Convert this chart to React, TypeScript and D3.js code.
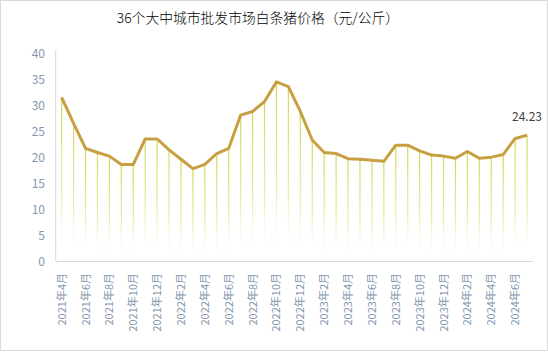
import React from "react";
import * as d3 from "d3";

const months: string[] = [
  "2021年4月","2021年5月","2021年6月","2021年7月","2021年8月","2021年9月","2021年10月","2021年11月","2021年12月",
  "2022年1月","2022年2月","2022年3月","2022年4月","2022年5月","2022年6月","2022年7月","2022年8月","2022年9月","2022年10月","2022年11月","2022年12月",
  "2023年1月","2023年2月","2023年3月","2023年4月","2023年5月","2023年6月","2023年7月","2023年8月","2023年9月","2023年10月","2023年11月","2023年12月",
  "2024年1月","2024年2月","2024年3月","2024年4月","2024年5月","2024年6月","2024年7月",
];
const prices: number[] = [
  31.5, 26.5, 21.7, 20.9, 20.2, 18.6, 18.6, 23.5, 23.5,
  21.4, 19.6, 17.8, 18.6, 20.7, 21.7, 28.1, 28.8, 30.7, 34.5, 33.6, 28.8,
  23.3, 20.9, 20.7, 19.7, 19.6, 19.4, 19.2, 22.3, 22.3, 21.2, 20.4, 20.2,
  19.8, 21.1, 19.8, 20.0, 20.5, 23.6, 24.23,
];
const yTicks: number[] = [0, 5, 10, 15, 20, 25, 30, 35, 40];
const title = "36个大中城市批发市场白条猪价格（元/公斤）";
const lastLabel = "24.23";

const W = 548, H = 360;
const left = 55.7, right = 533, top = 53.3, bottom = 261;

export default function App() {
  const x = d3.scaleBand<string>().domain(months).range([left, right]);
  const y = d3.scaleLinear().domain([0, 40]).range([bottom, top]);
  const cx = (m: string) => (x(m) as number) + x.bandwidth() / 2;
  const line = d3.line<number>().x((_, i) => cx(months[i])).y((d) => y(d));
  const font = "'Microsoft YaHei','Noto Sans CJK SC',sans-serif";
  const lastI = prices.length - 1;
  return (
    <svg width={W} height={H} style={{ position: "absolute", left: 0, top: 0 }} fontFamily={font}>
      <defs>
        <linearGradient id="drop" x1="0" y1="0" x2="0" y2="1">
          <stop offset="0" stopColor="#d2d85a" stopOpacity={1} />
          <stop offset="0.6" stopColor="#e2e68e" stopOpacity={0.75} />
          <stop offset="1" stopColor="#ffffff" stopOpacity={0} />
        </linearGradient>
      </defs>
      <rect x={0} y={0} width={W} height={H} fill="#fff" />
      <rect x={0.5} y={0.5} width={W - 1} height={350} fill="#fff" stroke="#d9d9d9" />
      <text x={258} y={23} textAnchor="middle" fontSize={13.8} fontWeight={300} fill="#000">{title}</text>
      {prices.map((v, i) => (
        <rect key={"d" + i} x={cx(months[i]) - 0.6} y={y(v)} width={1.2} height={bottom - y(v)} fill="url(#drop)" />
      ))}
      <line x1={left} x2={left} y1={top - 3} y2={bottom} stroke="#d9d9d9" strokeWidth={1} />
      <line x1={left} x2={right} y1={bottom + 0.5} y2={bottom + 0.5} stroke="#d9d9d9" strokeWidth={1} />
      {yTicks.map((t) => (
        <text key={"y" + t} x={45} y={y(t) + 4.5} textAnchor="end" fontSize={12} fill="#8497b0">{t}</text>
      ))}
      {months.map((m, i) =>
        i % 2 === 0 ? (
          <text key={"x" + i} transform={`translate(${cx(m) + 4},${bottom + 12}) rotate(-90)`} textAnchor="end" fontSize={11} fill="#8497b0">{m}</text>
        ) : null
      )}
      <path d={line(prices) || ""} fill="none" stroke="#c9a041" strokeWidth={3} strokeLinejoin="round" />
      <text x={cx(months[lastI])} y={121} textAnchor="middle" fontSize={12} fill="#404040">{lastLabel}</text>
    </svg>
  );
}
